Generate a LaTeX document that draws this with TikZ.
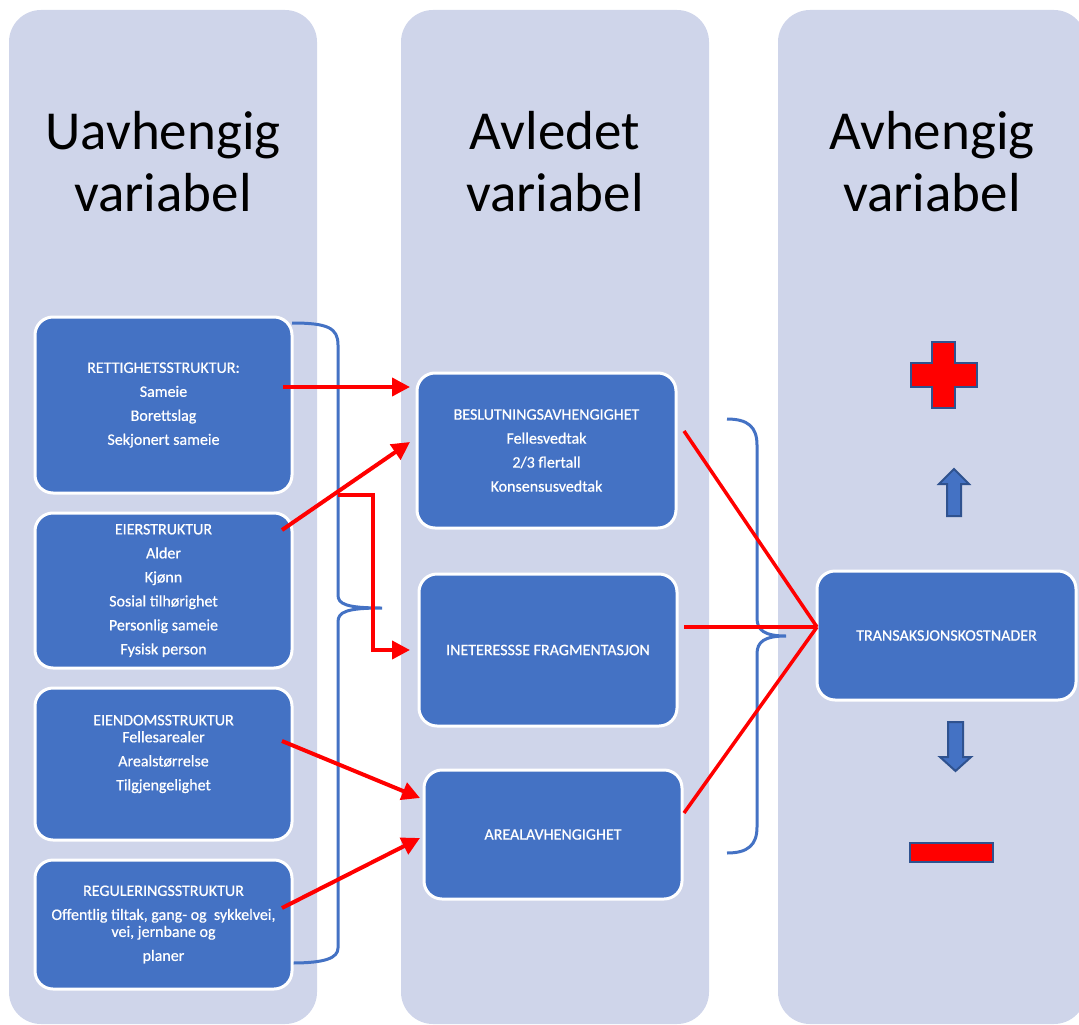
\documentclass[tikz,border=0pt]{standalone}
\usepackage{fontspec}
\setmainfont{Carlito}
\newfontfamily\boxfont{Carlito}[FakeBold=0.6]
\usetikzlibrary{arrows.meta,calc}
\definecolor{colbg}{HTML}{CFD5EA}
\definecolor{boxblue}{HTML}{4472C4}
\definecolor{darkblue}{HTML}{2F528F}
\definecolor{pured}{HTML}{FF0000}
\begin{document}
\begin{tikzpicture}[x=1pt,y=-1pt,
 column/.style={fill=colbg, rounded corners=32pt, minimum width=308pt, minimum height=1014pt, inner sep=0pt, outer sep=0pt},
 title/.style={font=\fontsize{55}{62}\selectfont, align=center, text=black},
 box/.style={fill=boxblue, draw=white, line width=3pt, rounded corners=18pt, inner sep=0pt, outer sep=0pt, text=white, align=center, font=\boxfont\fontsize{16}{24}\selectfont},
 boxtext/.style={text=white, align=center, font=\boxfont\fontsize{16}{24}\selectfont, inner sep=0pt},
 brace/.style={draw=boxblue, line width=3pt},
 redarrow/.style={draw=pured, line width=4pt, -{Triangle[length=18pt,width=18pt]}},
 redline/.style={draw=pured, line width=3.5pt},
 shapeblue/.style={fill=boxblue, draw=darkblue, line width=2pt},
 shapered/.style={fill=pured, draw=darkblue, line width=2pt}]
\useasboundingbox (0,0) rectangle (1079,1025);

% columns
\node[column] (c1) at (163,517) {};
\node[column] (c2) at (555,517) {};
\node[column] (c3) at (932,517) {};

% titles
\node[title] (t1) at (163,162) {Uavhengig\\variabel};
\node[title] (t2) at (555,162) {Avledet\\variabel};
\node[title] (t3) at (932,162) {Avhengig\\variabel};

% braces
\draw[brace] (292,323) .. controls (328,323) and (338,328) .. (338,345) -- (338,595)
  .. controls (338,604) and (346,608) .. (382,608) coordinate (bt1)
  .. controls (346,608) and (338,612) .. (338,622) -- (338,948)
  .. controls (338,958) and (325,963) .. (292,963);
\draw[brace] (727,419) .. controls (748,419) and (757,427) .. (757,445) -- (757,618)
  .. controls (757,630) and (764,636) .. (786,636) coordinate (bt2)
  .. controls (764,636) and (757,642) .. (757,654) -- (757,827)
  .. controls (757,845) and (748,853) .. (727,853);

% left boxes
\node[box, minimum width=257pt, minimum height=176pt] (r1) at (163.5,405)
  {RETTIGHETSSTRUKTUR:\\Sameie\\Borettslag\\Sekjonert sameie};
\node[box, minimum width=257pt, minimum height=155pt] (r2) at (163.5,590.5)
  {EIERSTRUKTUR\\Alder\\Kjønn\\Sosial tilhørighet\\Personlig sameie\\Fysisk person};
\node[box, minimum width=257pt, minimum height=152pt] (r3) at (163.5,764) {};
\node[boxtext] (r3t) at (163.5,754)
  {EIENDOMSSTRUKTUR\\[-7pt]Fellesarealer\\Arealstørrelse\\Tilgjengelighet};
\node[box, minimum width=257pt, minimum height=129pt] (r4) at (163.5,924.5)
  {REGULERINGSSTRUKTUR\\Offentlig tiltak, gang- og\ \ sykkelvei,\\[-7pt]vei, jernbane og\\planer};

% middle boxes
\node[box, minimum width=259pt, minimum height=155pt] (b) at (546.5,450.5)
  {BESLUTNINGSAVHENGIGHET\\Fellesvedtak\\2/3 flertall\\Konsensusvedtak};
\node[box, minimum width=258pt, minimum height=152pt] (i) at (548,650)
  {INETERESSSE FRAGMENTASJON};
\node[box, minimum width=258pt, minimum height=129pt] (a) at (553,834.5)
  {AREALAVHENGIGHET};

% right box
\node[box, minimum width=259pt, minimum height=129pt] (t) at (946.5,635.5)
  {TRANSAKSJONSKOSTNADER};

% red arrows
\coordinate (j) at (338,495);
\draw[redarrow] ([shift={(-9,-18)}]r1.east) -- ([shift={(-7,-63.5)}]b.west);
\draw[redarrow] ([shift={(-10,-60.5)}]r2.east) -- ([shift={(-7,-8.5)}]b.west);
\draw[redarrow] (j) -- ++(35,0) |- ([shift={(-9,0)}]i.west);
\draw[redarrow] ([shift={(-10,-23)}]r3.east) -- ([shift={(-4,-36.5)}]a.west);
\draw[redarrow] ([shift={(-10,-16.5)}]r4.east) -- ([shift={(-4,3.5)}]a.west);

% red lines to transaction costs
\coordinate (apex) at ([shift={(0,-8.5)}]t.west);
\draw[redline] ([shift={(8,-19.5)}]b.east) -- (apex);
\draw[redline] ([shift={(7,-23)}]i.east) -- (apex);
\draw[redline] ([shift={(2,-21.5)}]a.east) -- (apex);

% plus, arrows, minus
\draw[shapered] (932,342) -- (955,342) -- (955,363) -- (977,363) -- (977,387) -- (955,387)
  -- (955,408) -- (932,408) -- (932,387) -- (911,387) -- (911,363) -- (932,363) -- cycle;
\draw[shapeblue] (954,469) -- (969,484) -- (961,484) -- (961,516) -- (947,516) -- (947,484) -- (939,484) -- cycle;
\draw[shapeblue] (948,722) -- (963,722) -- (963,757) -- (971,757) -- (955.5,771) -- (940,757) -- (948,757) -- cycle;
\draw[shapered] (910,843) rectangle (993,862);
\end{tikzpicture}
\end{document}
